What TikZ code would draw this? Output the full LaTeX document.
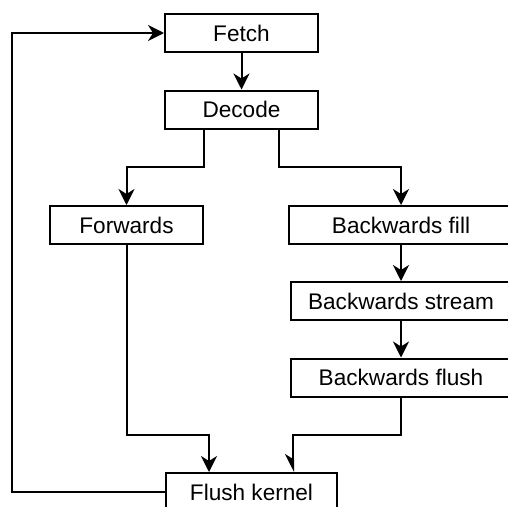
\documentclass[tikz,border=0pt]{standalone}
\usepackage{fontspec}
\setmainfont{Liberation Sans}
\usetikzlibrary{arrows.meta}

\begin{document}
\begin{tikzpicture}[x=1pt,y=1pt,
  line width=2pt,
  stage/.style={draw=black, rectangle, inner sep=0pt, minimum height=38pt,
    font=\fontsize{22.6}{27}\selectfont},
  arr/.style={-{Stealth[length=16pt,width=16pt,inset=5pt]}},
  halfarr/.style={-{Stealth[length=16pt,width=16pt,inset=5pt,right]}}]
  \clip (0,0) rectangle (508,-506);

  % pipeline stages
  \node[stage, minimum width=153pt] (fetch)   at (241.5,-33)  {Fetch};
  \node[stage, minimum width=153pt] (decode)  at (241.5,-109.5) {Decode};
  \node[stage, minimum width=153pt] (fwd)     at (126.5,-225) {Forwards};
  \node[stage, minimum width=224pt] (bfill)   at (401,-225)   {Backwards fill};
  \node[stage, minimum width=220pt] (bstream) at (401,-301)   {Backwards stream};
  \node[stage, minimum width=220pt] (bflush)  at (401,-377.5) {Backwards flush};
  \node[stage, minimum width=171pt] (flush)   at (251.5,-492) {Flush kernel};

  % bend points of the routed connectors
  \coordinate (dl) at (204,-167);
  \coordinate (dr) at (279,-167);
  \coordinate (fl) at (209,-435);
  \coordinate (fr) at (293,-435);
  \coordinate (fb) at (12,-33);

  \draw[arr] (fetch.south) -- (decode.north);
  \draw[arr] (decode.south -| dl) -- (dl) -| (fwd.north);
  \draw[arr] (decode.south -| dr) -- (dr) -| (bfill.north);
  \draw[arr] (bfill.south) -- (bstream.north);
  \draw[arr] (bstream.south) -- (bflush.north);
  \draw[arr] (fwd.south) |- (fl) -- (flush.north -| fl);
  \draw[halfarr] (bflush.south) |- (fr) -- (flush.north -| fr);
  \draw[arr] (flush.west) -| (fb) -- (fetch.west);
\end{tikzpicture}
\end{document}
